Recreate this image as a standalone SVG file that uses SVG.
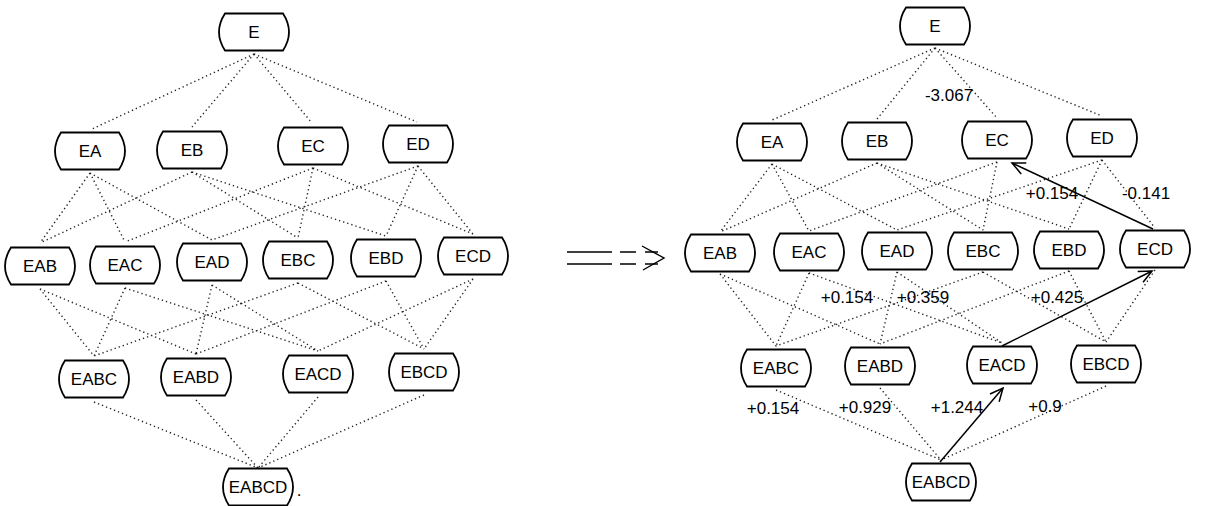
<svg xmlns="http://www.w3.org/2000/svg" xmlns:xlink="http://www.w3.org/1999/xlink" width="1229" height="506" viewBox="0 0 1229 506">
<style>
.bx{fill:#fff;stroke:#000;stroke-width:1.8}
.t{font-family:"Liberation Sans",Arial,sans-serif;font-size:17px;fill:#000;text-anchor:middle}
.l{font-family:"Liberation Sans",Arial,sans-serif;font-size:17px;fill:#000;text-anchor:middle}
.d{stroke:#222;stroke-width:1.4;stroke-dasharray:1.3 3;fill:none}
.s{stroke:#000;stroke-width:1.5;fill:none}
</style>
<defs>
<path id="box" class="bx" d="M-29,-18.5 H29 Q41,0 29,18.5 H-29 Q-41,0 -29,-18.5 Z"/>
<marker id="ah" viewBox="-15 -8 17 16" refX="0" refY="0" markerWidth="17" markerHeight="16" markerUnits="userSpaceOnUse" orient="auto">
<path d="M-13,-6 L0,0 L-13,6" fill="none" stroke="#000" stroke-width="1.5"/>
</marker>
</defs>
<rect width="1229" height="506" fill="#fff"/>
<g id="connectors">
<!-- left lattice -->
<path class="d" d="M254,54 L92,129 M254,54 L192,127 M254,54 L312,123 M254,54 L417,122
M90,173 L40,243 M90,173 L125,242 M90,173 L212,240
M192,172 L40,243 M192,172 L298,238 M192,172 L386,236
M313,168 L125,242 M313,168 L298,238 M313,168 L473,234
M418,166 L212,240 M418,166 L386,236 M418,166 L473,234
M40,289 L94,356 M40,289 L196,354
M125,288 L94,356 M125,288 L318,351
M212,285 L196,354 M212,285 L318,351
M298,283 L94,356 M298,283 L424,349
M386,281 L196,354 M386,281 L424,349
M473,279 L318,351 M473,279 L424,349
M94,402 L258,468 M196,400 L258,468 M318,397 L258,468 M424,395 L258,468"/>
<!-- right lattice -->
<path class="d" d="M935,48 L772,120 M935,48 L877,119 M935,48 L997,118 M935,48 L1102,116
M772,164 L720,232 M772,164 L809,231 M772,164 L897,230
M877,163 L720,232 M877,163 L983,230 M877,163 L1069,229
M997,162 L809,231 M997,162 L983,230
M1102,160 L897,230 M1102,160 L1069,229 M1102,160 L1155,228
M720,274 L776,346 M720,274 L880,344
M809,273 L776,346 M809,273 L1002,343
M897,272 L880,344 M897,272 L1002,343
M983,272 L776,346 M983,272 L1106,342
M1069,271 L880,344 M1069,271 L1106,342
M1155,270 L1106,342
M776,390 L941,460 M880,388 L941,460 M1106,386 L941,460"/>
<line class="s" x1="1153" y1="229" x2="1012" y2="163" marker-end="url(#ah)"/>
<line class="s" x1="1002" y1="346" x2="1152" y2="271" marker-end="url(#ah)"/>
<line class="s" x1="940" y1="462" x2="1003" y2="388" marker-end="url(#ah)"/>
</g>
<g id="transform-arrow" stroke="#000" stroke-width="1.4" fill="none">
<path d="M567,252 H612 M620,252 H636 M645,252 H658 M567,264 H612 M620,264 H636 M645,264 H658"/>
<path d="M642,246 L664,258 L643,270"/>
</g>
<!-- left nodes -->
<g id="L-E"><use xlink:href="#box" x="254" y="32"/><text class="t" x="254" y="38">E</text></g>
<g id="L-EA"><use xlink:href="#box" x="90" y="151"/><text class="t" x="90" y="157">EA</text></g>
<g id="L-EB"><use xlink:href="#box" x="192" y="150"/><text class="t" x="192" y="156">EB</text></g>
<g id="L-EC"><use xlink:href="#box" x="313" y="146"/><text class="t" x="313" y="152">EC</text></g>
<g id="L-ED"><use xlink:href="#box" x="418" y="144"/><text class="t" x="418" y="150">ED</text></g>
<g id="L-EAB"><use xlink:href="#box" x="40" y="266"/><text class="t" x="40" y="272">EAB</text></g>
<g id="L-EAC"><use xlink:href="#box" x="125" y="265"/><text class="t" x="125" y="271">EAC</text></g>
<g id="L-EAD"><use xlink:href="#box" x="212" y="262"/><text class="t" x="212" y="268">EAD</text></g>
<g id="L-EBC"><use xlink:href="#box" x="298" y="260"/><text class="t" x="298" y="266">EBC</text></g>
<g id="L-EBD"><use xlink:href="#box" x="386" y="258"/><text class="t" x="386" y="264">EBD</text></g>
<g id="L-ECD"><use xlink:href="#box" x="473" y="256"/><text class="t" x="473" y="262">ECD</text></g>
<g id="L-EABC"><use xlink:href="#box" x="94" y="379"/><text class="t" x="94" y="385">EABC</text></g>
<g id="L-EABD"><use xlink:href="#box" x="196" y="377"/><text class="t" x="196" y="383">EABD</text></g>
<g id="L-EACD"><use xlink:href="#box" x="318" y="374"/><text class="t" x="318" y="380">EACD</text></g>
<g id="L-EBCD"><use xlink:href="#box" x="424" y="372"/><text class="t" x="424" y="378">EBCD</text></g>
<g id="L-EABCD"><use xlink:href="#box" x="258" y="487"/><text class="t" x="258" y="493">EABCD</text><text class="t" x="299" y="496">.</text></g>
<!-- right nodes -->
<g id="R-E"><use xlink:href="#box" x="935" y="26"/><text class="t" x="935" y="32">E</text></g>
<g id="R-EA"><use xlink:href="#box" x="772" y="142"/><text class="t" x="772" y="148">EA</text></g>
<g id="R-EB"><use xlink:href="#box" x="877" y="141"/><text class="t" x="877" y="147">EB</text></g>
<g id="R-EC"><use xlink:href="#box" x="997" y="140"/><text class="t" x="997" y="146">EC</text></g>
<g id="R-ED"><use xlink:href="#box" x="1102" y="138"/><text class="t" x="1102" y="144">ED</text></g>
<g id="R-EAB"><use xlink:href="#box" x="720" y="253"/><text class="t" x="720" y="259">EAB</text></g>
<g id="R-EAC"><use xlink:href="#box" x="809" y="252"/><text class="t" x="809" y="258">EAC</text></g>
<g id="R-EAD"><use xlink:href="#box" x="897" y="251"/><text class="t" x="897" y="257">EAD</text></g>
<g id="R-EBC"><use xlink:href="#box" x="983" y="251"/><text class="t" x="983" y="257">EBC</text></g>
<g id="R-EBD"><use xlink:href="#box" x="1069" y="250"/><text class="t" x="1069" y="256">EBD</text></g>
<g id="R-ECD"><use xlink:href="#box" x="1155" y="249"/><text class="t" x="1155" y="255">ECD</text></g>
<g id="R-EABC"><use xlink:href="#box" x="776" y="368"/><text class="t" x="776" y="374">EABC</text></g>
<g id="R-EABD"><use xlink:href="#box" x="880" y="366"/><text class="t" x="880" y="372">EABD</text></g>
<g id="R-EACD"><use xlink:href="#box" x="1002" y="365"/><text class="t" x="1002" y="371">EACD</text></g>
<g id="R-EBCD"><use xlink:href="#box" x="1106" y="364"/><text class="t" x="1106" y="370">EBCD</text></g>
<g id="R-EABCD"><use xlink:href="#box" x="941" y="482"/><text class="t" x="941" y="488">EABCD</text></g>
<g id="edge-labels">
<text class="l" x="949" y="101">-3.067</text>
<text class="l" x="1052" y="199">+0.154</text>
<text class="l" x="1146" y="199">-0.141</text>
<text class="l" x="847" y="303">+0.154</text>
<text class="l" x="923" y="303">+0.359</text>
<text class="l" x="1057" y="303">+0.425</text>
<text class="l" x="773" y="414">+0.154</text>
<text class="l" x="865" y="413">+0.929</text>
<text class="l" x="957" y="413">+1.244</text>
<text class="l" x="1045" y="412">+0.9</text>
</g>
</svg>
